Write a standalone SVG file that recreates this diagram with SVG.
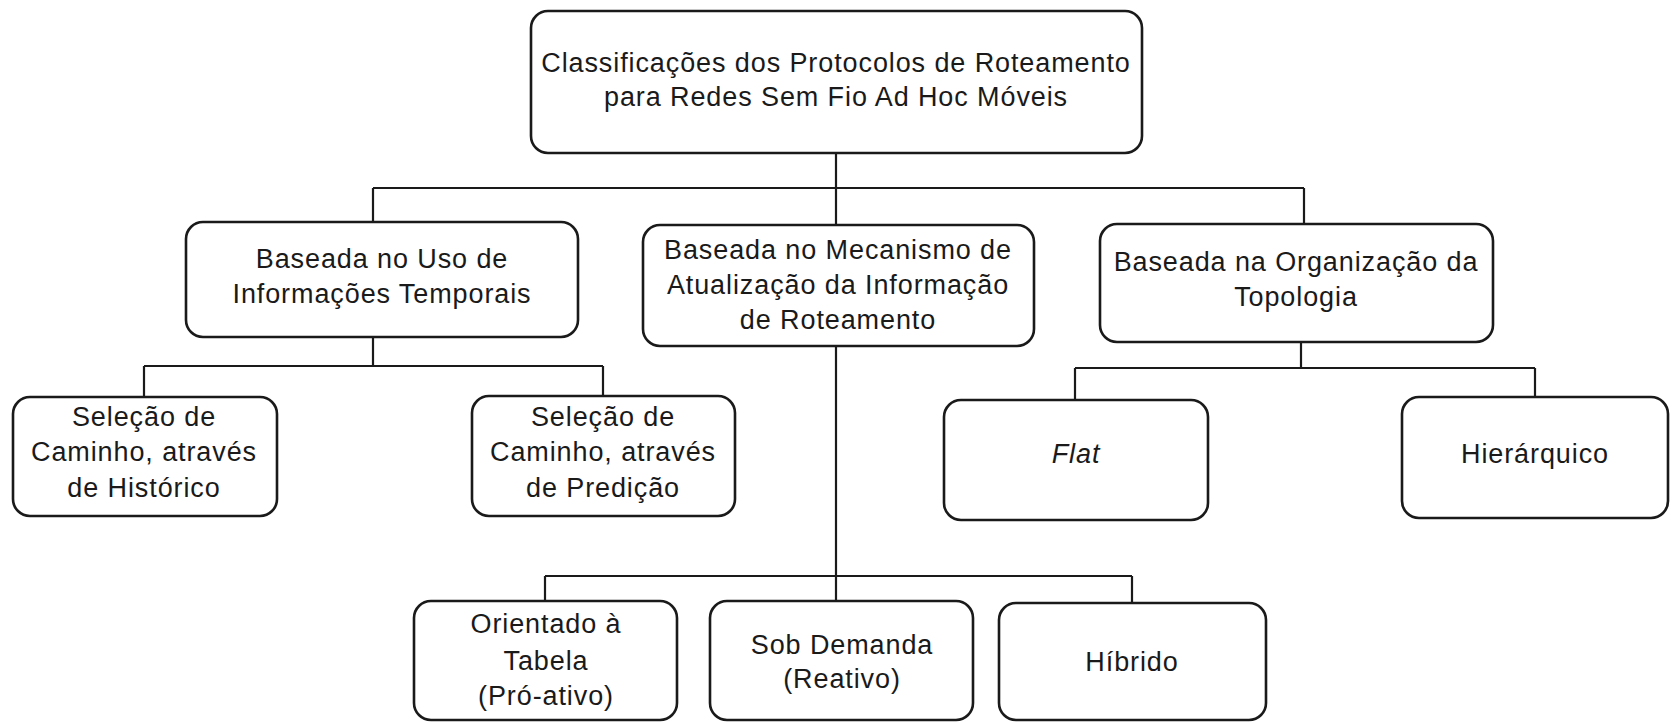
<svg xmlns="http://www.w3.org/2000/svg" width="1675" height="724" viewBox="0 0 1675 724">
<style>
.box{fill:#fff;stroke:#1a1a1a;stroke-width:2.6}
.ln{fill:none;stroke:#1a1a1a;stroke-width:2.2}
text{font-family:"Liberation Sans",Arial,sans-serif;font-size:27px;letter-spacing:0.9px;fill:#1a1a1a;text-anchor:middle}
</style>
<rect width="1675" height="724" fill="#fff"/>
<g id="connectors">
<path class="ln" d="M836 153V188M373 188H1304M373 188V222M836 188V225M1304 188V224"/>
<path class="ln" d="M373 337V366M144 366H603M144 366V397M603 366V396"/>
<path class="ln" d="M1301 342V368M1075 368H1535M1075 368V400M1535 368V397"/>
<path class="ln" d="M836 346V601M545 576H1132M545 576V601M1132 576V603"/>
</g>
<g id="n0"><rect class="box" x="531" y="11" width="611" height="142" rx="17"/>
<text x="836" y="72">Classificações dos Protocolos de Roteamento</text>
<text x="836" y="106">para Redes Sem Fio Ad Hoc Móveis</text></g>
<g id="n1"><rect class="box" x="186" y="222" width="392" height="115" rx="17"/>
<text x="382" y="268">Baseada no Uso de</text>
<text x="382" y="303">Informações Temporais</text></g>
<g id="n2"><rect class="box" x="643" y="225" width="391" height="121" rx="17"/>
<text x="838" y="259">Baseada no Mecanismo de</text>
<text x="838" y="294">Atualização da Informação</text>
<text x="838" y="329">de Roteamento</text></g>
<g id="n3"><rect class="box" x="1100" y="224" width="393" height="118" rx="17"/>
<text x="1296" y="271">Baseada na Organização da</text>
<text x="1296" y="306">Topologia</text></g>
<g id="n4"><rect class="box" x="13" y="397" width="264" height="119" rx="17"/>
<text x="144" y="426">Seleção de</text>
<text x="144" y="461">Caminho, através</text>
<text x="144" y="497">de Histórico</text></g>
<g id="n5"><rect class="box" x="472" y="396" width="263" height="120" rx="17"/>
<text x="603" y="426">Seleção de</text>
<text x="603" y="461">Caminho, através</text>
<text x="603" y="497">de Predição</text></g>
<g id="n6"><rect class="box" x="944" y="400" width="264" height="120" rx="17"/>
<text x="1076" y="463" font-style="italic">Flat</text></g>
<g id="n7"><rect class="box" x="1402" y="397" width="266" height="121" rx="17"/>
<text x="1535" y="463">Hierárquico</text></g>
<g id="n8"><rect class="box" x="414" y="601" width="263" height="119" rx="17"/>
<text x="546" y="633">Orientado à</text>
<text x="546" y="670">Tabela</text>
<text x="546" y="705">(Pró-ativo)</text></g>
<g id="n9"><rect class="box" x="710" y="601" width="263" height="119" rx="17"/>
<text x="842" y="654">Sob Demanda</text>
<text x="842" y="688">(Reativo)</text></g>
<g id="n10"><rect class="box" x="999" y="603" width="267" height="117" rx="17"/>
<text x="1132" y="671">Híbrido</text></g>
</svg>
